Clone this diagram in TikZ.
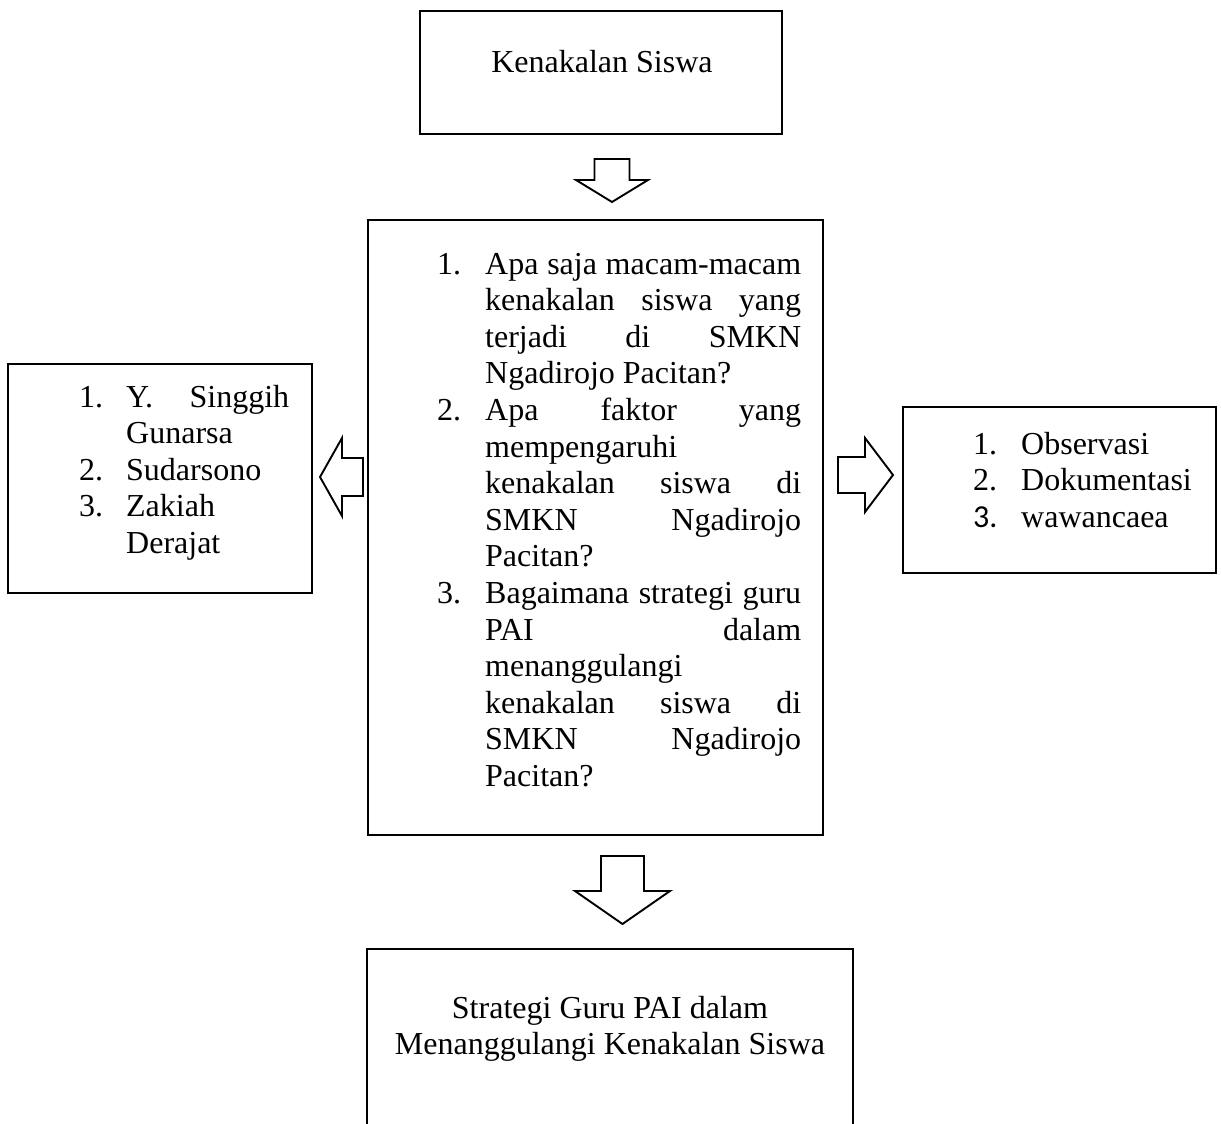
\documentclass[tikz,border=0pt]{standalone}
\usepackage{fontspec}
\setmainfont{Liberation Serif}
\newfontfamily\carlfont{Carlito}
\tikzset{
  box/.style={draw, line width=2pt, inner sep=0pt},
  blockarrow/.style={draw, line width=1.9pt, line join=miter, fill=white},
  txt/.style={inner sep=0pt, font=\fontsize{32}{36.6}\selectfont},
}
\newcommand{\jlmid}[1]{\hbox to 316pt{#1}}
\newcommand{\jlleft}[1]{\hbox to 163pt{#1}}
\begin{document}
\begin{tikzpicture}[x=1pt,y=-1pt]
\useasboundingbox (0,0) rectangle (1221,1124);
\clip (0,0) rectangle (1221,1124);

% boxes
\node[box, minimum width=362pt, minimum height=123pt] (topbox) at (601,72.5) {};
\node[box, minimum width=455pt, minimum height=615pt] (midbox) at (595.5,527.5) {};
\node[box, minimum width=304pt, minimum height=229pt] (leftbox) at (160,478.5) {};
\node[box, minimum width=313pt, minimum height=166pt] (rightbox) at (1059.5,490) {};
\node[box, minimum width=486pt, minimum height=240pt] (botbox) at (610,1069) {};

% block arrows
\draw[blockarrow] (594.5,159) -- (629.5,159) -- (629.5,180) -- (648,180) -- (612,202) -- (576,180) -- (594.5,180) -- cycle;
\draw[blockarrow] (363,458) -- (342,458) -- (342,438) -- (320,477) -- (342,516) -- (342,496) -- (363,496) -- cycle;
\draw[blockarrow] (838,457) -- (865,457) -- (865,438) -- (893,475) -- (865,512) -- (865,493) -- (838,493) -- cycle;
\draw[blockarrow] (601,856) -- (644,856) -- (644,891) -- (670,891) -- (622.5,924) -- (575,891) -- (601,891) -- cycle;

% texts
\node[txt, anchor=base] (toptext) at (602,73) {Kenakalan Siswa};
\node[txt, anchor=base] (bottext1) at (610,1018) {Strategi Guru PAI dalam};
\node[txt, anchor=base] (bottext2) at (610,1054) {Menanggulangi Kenakalan Siswa};

\node[txt, anchor=base west] (midlist) at (437,274) {%
\begin{tabular}[t]{@{}p{48pt}@{}l@{}}
1. & \jlmid{Apa\hfill saja\hfill macam-macam}\\
   & \jlmid{kenakalan\hfill siswa\hfill yang}\\
   & \jlmid{terjadi\hfill di\hfill SMKN}\\
   & Ngadirojo Pacitan?\\
2. & \jlmid{Apa\hfill faktor\hfill yang}\\
   & mempengaruhi\\
   & \jlmid{kenakalan\hfill siswa\hfill di}\\
   & \jlmid{SMKN\hfill Ngadirojo}\\
   & Pacitan?\\
3. & \jlmid{Bagaimana\hfill strategi\hfill guru}\\
   & \jlmid{PAI\hfill dalam}\\
   & menanggulangi\\
   & \jlmid{kenakalan\hfill siswa\hfill di}\\
   & \jlmid{SMKN\hfill Ngadirojo}\\
   & Pacitan?
\end{tabular}};

\node[txt, anchor=base west] (leftlist) at (79,407) {%
\begin{tabular}[t]{@{}p{47pt}@{}l@{}}
1. & \jlleft{Y.\hfill Singgih}\\
   & Gunarsa\\
2. & Sudarsono\\
3. & Zakiah\\
   & Derajat
\end{tabular}};

\node[txt, anchor=base west] (rightlist) at (973,454) {%
\begin{tabular}[t]{@{}p{48pt}@{}l@{}}
1. & Observasi\\
2. & Dokumentasi\\
{\carlfont 3.} & wawancaea
\end{tabular}};
\end{tikzpicture}
\end{document}
